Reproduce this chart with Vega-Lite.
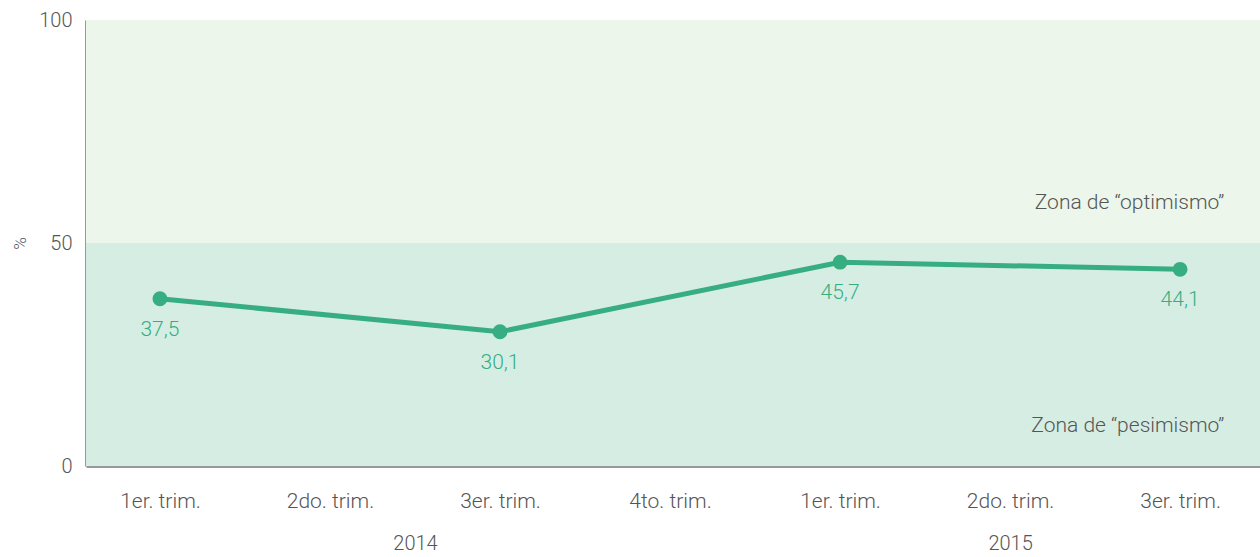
{
  "$schema": "https://vega.github.io/schema/vega-lite/v6.json",
  "width": 1174,
  "height": 446,
  "autosize": {"type": "none"},
  "padding": {"left": 86, "top": 20, "right": 0, "bottom": 91},
  "config": {
    "view": {"stroke": null},
    "font": "Roboto",
    "axis": {"labelFont": "Roboto", "titleFont": "Roboto", "labelFontWeight": 300}
  },
  "datasets": {
    "series": [
      {"idx": 1, "trim": "1er. trim.", "year": "2014", "value": 37.5, "label": "37,5"},
      {"idx": 3, "trim": "3er. trim.", "year": "2014", "value": 30.1, "label": "30,1"},
      {"idx": 5, "trim": "1er. trim.", "year": "2015", "value": 45.7, "label": "45,7"},
      {"idx": 7, "trim": "3er. trim.", "year": "2015", "value": 44.1, "label": "44,1"}
    ],
    "zones": [
      {"zone": "pesimismo", "lo": 0, "hi": 50},
      {"zone": "optimismo", "lo": 50, "hi": 100}
    ]
  },
  "layer": [
    {
      "data": {"name": "zones"},
      "mark": {"type": "rect"},
      "encoding": {
        "y": {"field": "lo", "type": "quantitative", "scale": {"domain": [0, 100], "nice": false},
          "axis": {"values": [0, 50, 100], "title": "%", "titleAngle": -90, "titleX": -66, "titleY": 223, "titleFontSize": 17, "titleFontWeight": 300, "titleColor": "#555555", "titleAlign": "center", "titleBaseline": "middle",
            "labelFontSize": 20, "labelColor": "#555555", "labelPadding": 14, "ticks": false, "grid": false, "domainColor": "#999999", "domainWidth": 3}},
        "y2": {"field": "hi"},
        "color": {"field": "zone", "type": "nominal", "scale": {"domain": ["pesimismo", "optimismo"], "range": ["#d6ede4", "#ecf6ea"]}, "legend": null}
      }
    },
    {
      "mark": {"type": "rule", "color": "#c6e5d4", "strokeWidth": 1.5},
      "encoding": {"y": {"datum": 50, "type": "quantitative"}}
    },
    {
      "data": {"name": "series"},
      "mark": {"type": "line", "color": "#36ae82", "strokeWidth": 5},
      "encoding": {
        "x": {"field": "idx", "type": "quantitative", "scale": {"domain": [0.565, 7.47], "nice": false, "zero": false},
          "axis": {"orient": "bottom", "values": [1, 2, 3, 4, 5, 6, 7], "title": null, "ticks": false, "grid": false, "labelFontSize": 21, "labelColor": "#555555", "labelPadding": 24, "domainColor": "#999999", "domainWidth": 3,
            "labelExpr": "['', '1er. trim.', '2do. trim.', '3er. trim.', '4to. trim.', '1er. trim.', '2do. trim.', '3er. trim.'][datum.value]"}},
        "y": {"field": "value", "type": "quantitative"}
      }
    },
    {
      "data": {"name": "series"},
      "mark": {"type": "point", "filled": true, "opacity": 1, "color": "#36ae82", "size": 220},
      "encoding": {
        "x": {"field": "idx", "type": "quantitative", "axis": null},
        "y": {"field": "value", "type": "quantitative"}
      }
    },
    {
      "data": {"name": "series"},
      "mark": {"type": "text", "color": "#36ae82", "fontSize": 21, "fontWeight": 300, "dy": 31, "align": "center", "baseline": "middle"},
      "encoding": {
        "x": {"field": "idx", "type": "quantitative", "axis": null},
        "y": {"field": "value", "type": "quantitative"},
        "text": {"field": "label"}
      }
    },
    {
      "data": {"values": [{"t": "Zona de “optimismo”", "v": 59}, {"t": "Zona de “pesimismo”", "v": 9}]},
      "mark": {"type": "text", "color": "#555555", "fontSize": 21, "fontWeight": 300, "align": "right", "baseline": "middle"},
      "encoding": {
        "x": {"datum": 7.26, "type": "quantitative", "axis": null},
        "y": {"field": "v", "type": "quantitative"},
        "text": {"field": "t"}
      }
    },
    {
      "data": {"values": [{"year": "2014", "mid": 2.5}, {"year": "2015", "mid": 6}]},
      "mark": {"type": "text", "opacity": 0},
      "encoding": {
        "x": {"field": "mid", "type": "quantitative",
          "axis": {"orient": "bottom", "values": [2.5, 6], "title": null, "ticks": false, "grid": false, "domain": false, "labelFontSize": 20, "labelColor": "#555555", "labelPadding": 67,
            "labelExpr": "datum.value == 2.5 ? '2014' : '2015'"}},
        "y": {"datum": 0, "type": "quantitative"},
        "text": {"field": "year"}
      }
    }
  ],
  "resolve": {"axis": {"x": "independent"}}
}
